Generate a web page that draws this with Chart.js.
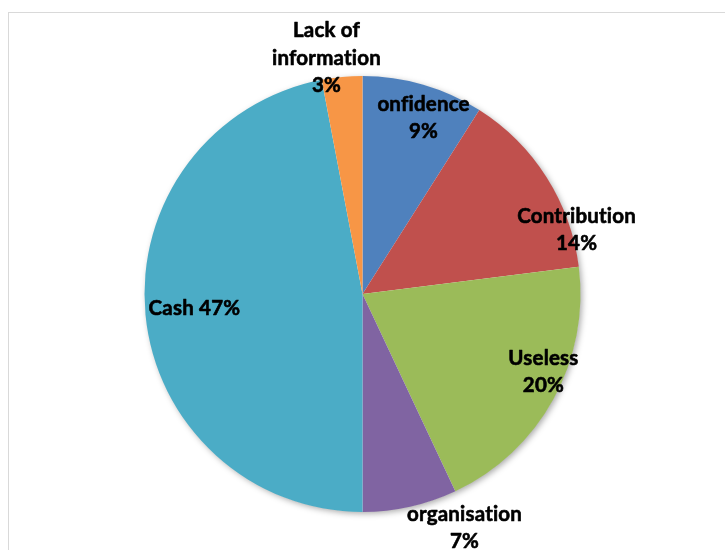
<!DOCTYPE html>
<html>
<head>
<meta charset="utf-8">
<script src="https://cdn.jsdelivr.net/npm/chart.js@4.4.1/dist/chart.umd.min.js"></script>
<style>
  html, body { margin: 0; padding: 0; background: #fff; overflow: hidden; }
  #wrap { position: relative; width: 725px; height: 550px; }
  #frame { position: absolute; left: 8px; top: 12px; width: 760px; height: 600px;
           border: 1px solid #d9d9d9; box-sizing: border-box; }
  #pie { position: absolute; left: 0; top: 0; }
</style>
</head>
<body>
<div id="wrap">
  <div id="frame"></div>
  <canvas id="pie" width="725" height="550"></canvas>
</div>
<script>
// slices, clockwise from 12 o'clock
const labels = ['onfidence', 'Contribution', 'Useless', 'organisation', 'Cash', 'Lack of information'];
const shares = [9, 14, 20, 7, 47, 3];
const colors = ['#4F81BD', '#C0504D', '#9BBB59', '#8064A2', '#4BACC6', '#F79646'];

// label text lines per slice
const labelLines = [
  ['onfidence', '9%'],
  ['Contribution', '14%'],
  ['Useless', '20%'],
  ['organisation', '7%'],
  ['Cash 47%'],
  ['Lack of', 'information', '3%']
];
// label anchor relative to pie centre, in units of radius
const labelOffsets = [
  [0.28, -0.807],
  [0.982, -0.294],
  [0.83, 0.358],
  [0.468, 1.073],
  [-0.771, 0.064],
  [-0.165, -1.083]
];

const FONT = 'bold 20.5px Lato, "DejaVu Sans", sans-serif';
const LINE_H = 27.5;

// soft drop shadow under the whole pie
const pieShadow = {
  id: 'pieShadow',
  beforeDatasetsDraw(chart) {
    const arc = chart.getDatasetMeta(0).data[0];
    if (!arc) return;
    const ctx = chart.ctx;
    ctx.save();
    ctx.shadowColor = 'rgba(0,0,0,0.35)';
    ctx.shadowBlur = 6;
    ctx.shadowOffsetX = 2;
    ctx.shadowOffsetY = 2;
    ctx.fillStyle = '#ffffff';
    ctx.beginPath();
    ctx.arc(arc.x, arc.y, arc.outerRadius - 0.5, 0, Math.PI * 2);
    ctx.fill();
    ctx.restore();
  }
};

// data labels
const sliceLabels = {
  id: 'sliceLabels',
  afterDatasetsDraw(chart) {
    const meta = chart.getDatasetMeta(0);
    const ctx = chart.ctx;
    ctx.save();
    ctx.font = FONT;
    if ('letterSpacing' in ctx) ctx.letterSpacing = '0.2px'; // keeps fi / ti apart
    ctx.fillStyle = '#000';
    ctx.strokeStyle = '#000';
    ctx.lineWidth = 0.6;
    ctx.lineJoin = 'round';
    ctx.textAlign = 'center';
    ctx.textBaseline = 'middle';
    meta.data.forEach((arc, i) => {
      const r = arc.outerRadius;
      const cx = arc.x + labelOffsets[i][0] * r;
      const cy = arc.y + labelOffsets[i][1] * r;
      const lines = labelLines[i];
      const top = cy - (lines.length - 1) * LINE_H / 2;
      lines.forEach((t, k) => {
        ctx.fillText(t, cx, top + k * LINE_H);
        ctx.strokeText(t, cx, top + k * LINE_H);
      });
    });
    ctx.restore();
  }
};

new Chart(document.getElementById('pie'), {
  type: 'pie',
  data: {
    labels: labels,
    datasets: [{
      data: shares,
      backgroundColor: colors,
      borderWidth: 0
    }]
  },
  options: {
    responsive: false,
    animation: false,
    layout: { padding: { top: 76, bottom: 38, left: 0, right: 0 } },
    plugins: {
      legend: { display: false },
      tooltip: { enabled: false }
    }
  },
  plugins: [pieShadow, sliceLabels]
});
</script>
</body>
</html>
